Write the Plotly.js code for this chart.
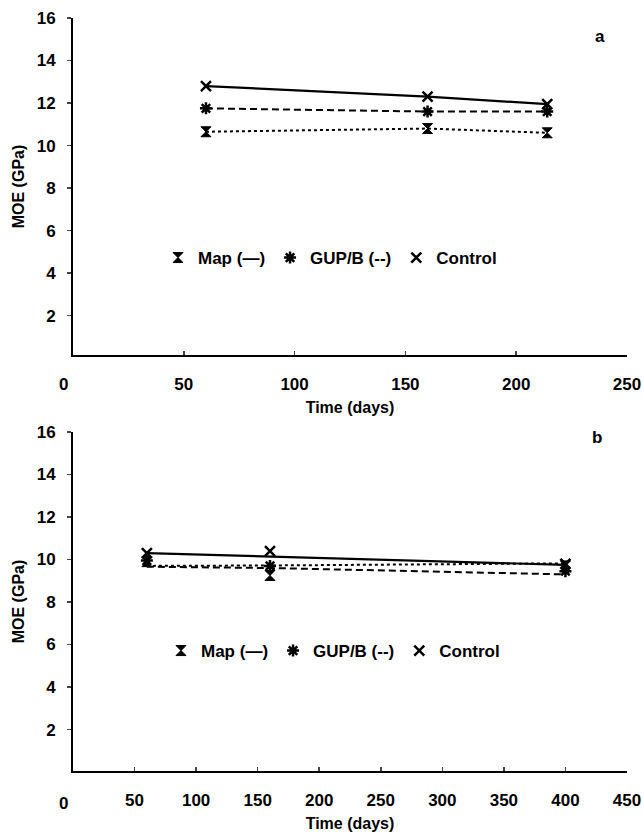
<!DOCTYPE html>
<html>
<head>
<meta charset="utf-8">
<script src="https://cdn.plot.ly/plotly-3.0.1.min.js"></script>
<style>html,body{margin:0;padding:0;background:#fff;}#chart{width:643px;height:838px;}</style>
</head>
<body>
<div id="chart"></div>
<script>
// ---- Panel a ----
const timeA = [60, 160, 214];
const mapA = [10.65, 10.8, 10.6];
const gupA = [11.75, 11.6, 11.6];
const controlA = [12.8, 12.3, 11.95];
// ---- Panel b (measured points) ----
const timeB = [60, 160, 400];
const mapB = [9.9, 9.25, 9.7];
const gupB = [9.95, 9.7, 9.45];
const controlB = [10.3, 10.4, 9.8];
// ---- Panel b (drawn trend lines, read at the same times) ----
const mapLineB = [9.7, 9.72, 9.82];
const gupLineB = [9.66, 9.6, 9.3];
const controlLineB = [10.3, 10.14, 9.75];

const xTicksA = [50, 100, 150, 200, 250];
const xTicksB = [50, 100, 150, 200, 250, 300, 350, 400, 450];
const yTicks = [2, 4, 6, 8, 10, 12, 14, 16];
const seriesNames = ['Map (\u2014)', 'GUP/B (--)', 'Control'];

const FONT = 'Liberation Sans, Arial, Helvetica, sans-serif';
const black = '#000';

const lineStyles = [
  {color: black, width: 2, dash: 'dot'},
  {color: black, width: 2, dash: '7px,4px'},
  {color: black, width: 2.2}
];
const markerStyles = [
  {symbol: 'hourglass', size: 10, color: black, line: {color: black, width: 1}},
  {symbol: 'asterisk-open', size: 10, color: black, line: {color: black, width: 2.5}},
  {symbol: 'x-thin-open', size: 10, color: black, line: {color: black, width: 2.5}}
];

function panel(x, pts, lines, xa, ya, leg) {
  const out = [];
  for (let i = 0; i < 3; i++) {
    out.push({x: x, y: lines[i], xaxis: xa, yaxis: ya, type: 'scatter', mode: 'lines',
      line: lineStyles[i], showlegend: false, hoverinfo: 'skip'});
  }
  for (let i = 0; i < 3; i++) {
    out.push({x: x, y: pts[i], xaxis: xa, yaxis: ya, type: 'scatter', mode: 'markers',
      name: seriesNames[i], marker: markerStyles[i], cliponaxis: false, legend: leg});
  }
  return out;
}

const data = [].concat(
  panel(timeA, [mapA, gupA, controlA], [mapA, gupA, controlA], 'x', 'y', 'legend'),
  panel(timeB, [mapB, gupB, controlB], [mapLineB, gupLineB, controlLineB], 'x2', 'y2', 'legend2')
);

const tickFont = {family: FONT, size: 17, color: black, weight: 'bold'};
const titleFont = {family: FONT, size: 16, color: black, weight: 'bold'};
const XD = [73/643, 627/643];

function xax(range, ticks, anchor) {
  return {domain: XD, range: range, anchor: anchor,
    tickvals: ticks, ticktext: ticks.map(String), ticks: 'inside', ticklen: 4, tickwidth: 1.5,
    ticklabelstandoff: 13, ticklabeloverflow: 'allow',
    showline: true, linewidth: 2, linecolor: black, showgrid: false, zeroline: false,
    tickfont: tickFont, title: {text: 'Time (days)', font: titleFont, standoff: 8}};
}
function yax(domain, range, anchor) {
  return {domain: domain, range: range, anchor: anchor,
    tickvals: yTicks, ticktext: yTicks.map(String), ticks: 'outside', ticklen: 4, tickwidth: 1.5,
    ticklabelstandoff: 8,
    showline: true, linewidth: 2, linecolor: black, showgrid: false, zeroline: false,
    tickfont: tickFont, title: {text: 'MOE (GPa)', font: titleFont, standoff: 8}};
}

function label(text, xref, x, ypx, xshift) {
  return {text: text, xref: xref, x: x, yref: 'paper', y: 1 - ypx/838, xshift: xshift || 0,
    xanchor: 'center', yanchor: 'middle', showarrow: false, font: tickFont};
}

const layout = {
  width: 643, height: 838,
  margin: {l: 0, r: 0, t: 0, b: 0},
  paper_bgcolor: '#fff', plot_bgcolor: '#fff',
  font: {family: FONT, color: black},
  xaxis: xax([0, 250], xTicksA, 'y'),
  yaxis: yax([1 - 355/838, 1 - 18/838], [0.15, 16], 'x'),
  xaxis2: xax([0, 450], xTicksB, 'y2'),
  yaxis2: yax([1 - 771/838, 1 - 432/838], [0.05, 16], 'x2'),
  legend: {orientation: 'h', x: 158/643, y: 1 - 258/838, xanchor: 'left', yanchor: 'middle',
    font: {family: FONT, size: 17, color: black, weight: 'bold'}, itemwidth: 30, bgcolor: 'rgba(0,0,0,0)'},
  legend2: {orientation: 'h', x: 161/643, y: 1 - 651/838, xanchor: 'left', yanchor: 'middle',
    font: {family: FONT, size: 17, color: black, weight: 'bold'}, itemwidth: 30, bgcolor: 'rgba(0,0,0,0)'},
  annotations: [
    label('a', 'paper', 600/643, 36),
    label('b', 'paper', 597/643, 437),
    label('0', 'x', 0, 385, -10),
    label('0', 'x2', 0, 803, -10)
  ]
};

Plotly.newPlot('chart', data, layout, {staticPlot: true, displayModeBar: false});
</script>
</body>
</html>
